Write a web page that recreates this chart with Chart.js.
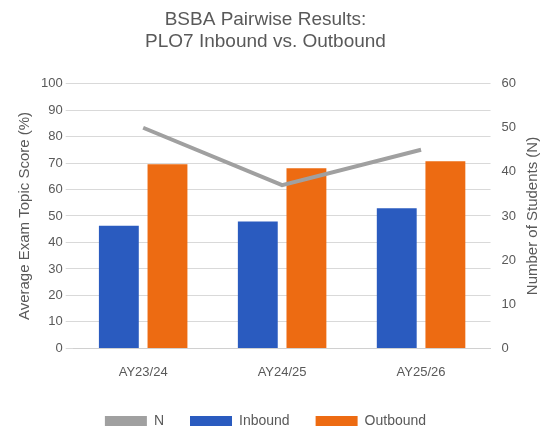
<!DOCTYPE html>
<html><head><meta charset="utf-8">
<script src="https://cdn.jsdelivr.net/npm/chart.js@4"></script>
<style>html,body{margin:0;padding:0;background:#fff}#w{width:555px;height:444px}</style>
</head><body><div id="w"><canvas id="c"></canvas></div>
<script>
const categories = ["AY23/24","AY24/25","AY25/26"];
const inbound = [46.3, 47.9, 52.9];
const outbound = [69.5, 68, 70.7];
const nStudents = [50, 37, 45];
const txt = '#595959';
const font = "Liberation Sans";
const rightTitle = {
  id:'rightTitle',
  afterDraw(chart){
    const ctx = chart.ctx, a = chart.chartArea;
    ctx.save();
    ctx.fillStyle = txt; ctx.font = '15px "'+font+'"';
    ctx.textAlign='center'; ctx.textBaseline='middle';
    ctx.translate(chart.width-22, (a.top+a.bottom)/2);
    ctx.rotate(-Math.PI/2);
    ctx.fillText('Number of Students (N)',0,0);
    ctx.restore();
  }
};
new Chart(document.getElementById('c'), {
  data: {
    labels: categories,
    datasets: [
      {type:'bar', label:'Inbound', data:inbound, yAxisID:'y', backgroundColor:'#2a5bbf', order:1, categoryPercentage:0.7, barPercentage:0.82},
      {type:'bar', label:'Outbound', data:outbound, yAxisID:'y', backgroundColor:'#ed6b12', order:1, categoryPercentage:0.7, barPercentage:0.82},
      {type:'line', label:'N', data:nStudents, yAxisID:'y2', borderColor:'#a0a0a0', backgroundColor:'#a0a0a0', borderWidth:4, pointRadius:0, order:0}
    ]
  },
  options: {
    responsive:true, maintainAspectRatio:false, animation:false,
    layout:{padding:{left:12,right:36,top:4,bottom:6}},
    plugins:{
      title:{display:true, text:['BSBA Pairwise Results:','PLO7 Inbound vs. Outbound'], color:txt, font:{family:font,size:19,weight:'normal'}, padding:{top:4,bottom:30}},
      legend:{position:'bottom', labels:{color:txt, font:{family:font,size:14}, boxWidth:42, boxHeight:10, padding:26,
        generateLabels(chart){ const l = Chart.defaults.plugins.legend.labels.generateLabels(chart); l.forEach(i=>{ if(i.text==='N'){i.lineWidth=0;i.fillStyle='#a0a0a0';} }); return l; }}}
    },
    scales:{
      x:{grid:{display:false}, border:{color:'#d0d0d0'}, ticks:{color:txt, font:{family:font,size:13}, padding:8}},
      y:{min:0,max:100, ticks:{stepSize:10,color:txt,font:{family:font,size:13}}, grid:{color:'#d9d9d9'}, border:{display:false},
        title:{display:true,text:'Average Exam Topic Score (%)',color:txt,font:{family:font,size:15}}},
      y2:{position:'right',min:0,max:60, ticks:{stepSize:10,color:txt,font:{family:font,size:13}}, grid:{display:false}, border:{display:false}}
    }
  },
  plugins:[rightTitle]
});
</script></body></html>
